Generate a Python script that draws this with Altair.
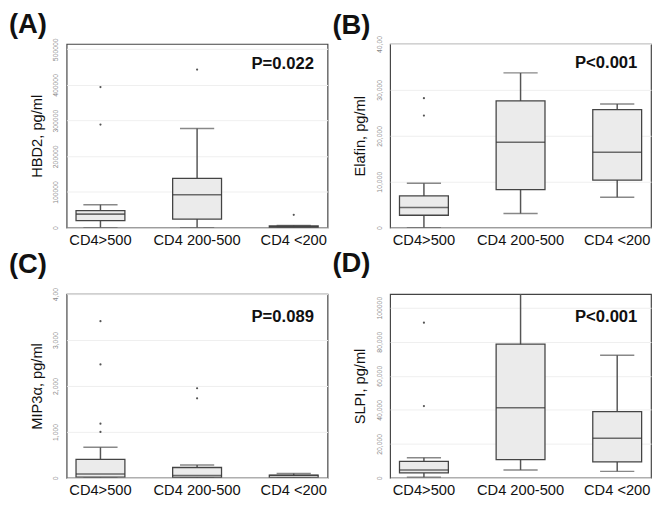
import altair as alt
import pandas as pd

categories = ["CD4>500", "CD4 200-500", "CD4 <200"]

# Panel A: HBD2
A_lo = [0, 0, 0]
A_q1 = [20000, 24000, 500]
A_med = [38000, 92000, 2500]
A_q3 = [48000, 138000, 5000]
A_hi = [64000, 278000, 6000]
A_out_cat = ["CD4>500", "CD4>500", "CD4 200-500", "CD4 <200"]
A_out_val = [289000, 394000, 443000, 36000]
A_ticks = [0, 100000, 200000, 300000, 400000, 500000]
A_tick_labels = ["0", "100000", "200000", "300000", "400000", "500000"]

# Panel B: Elafin
B_lo = [0, 3100, 6600]
B_q1 = [2700, 8300, 10350]
B_med = [4400, 18600, 16400]
B_q3 = [6900, 27600, 25700]
B_hi = [9650, 33700, 26900]
B_out_cat = ["CD4>500", "CD4>500"]
B_out_val = [24400, 28200]
B_ticks = [0, 10000, 20000, 30000, 40000]
B_tick_labels = ["0", "10,000", "20,000", "30,000", "40,00"]

# Panel C: MIP3a
C_lo = [0, 0, 0]
C_q1 = [15, 10, 5]
C_med = [85, 50, 50]
C_q3 = [400, 225, 58]
C_hi = [665, 280, 95]
C_out_cat = ["CD4>500", "CD4>500", "CD4>500", "CD4>500", "CD4 200-500", "CD4 200-500"]
C_out_val = [1000, 1180, 2470, 3410, 1730, 1950]
C_ticks = [0, 1000, 2000, 3000, 4000]
C_tick_labels = ["0", "1,000", "2,000", "3,000", "4,00"]

# Panel D: SLPI
D_lo = [400, 4600, 3800]
D_q1 = [2900, 10700, 9350]
D_med = [4600, 41200, 23300]
D_q3 = [9700, 78600, 38900]
D_hi = [11800, 112000, 72100]
D_out_cat = ["CD4>500", "CD4>500"]
D_out_val = [42200, 91200]
D_ticks = [0, 20000, 40000, 60000, 80000, 100000]
D_tick_labels = ["0", "20,000", "40,000", "60,000", "80,000", "100000"]

FONT = "Liberation Sans"
W, H = 267, 188


def panel(letter, ytitle, pval, lo, q1, med, q3, hi, out_cat, out_val,
          ymax, ticks, tick_labels, py, toff):
    stats = pd.DataFrame({"cat": categories, "lo": lo, "q1": q1, "med": med,
                          "q3": q3, "hi": hi})
    outs = pd.DataFrame({"cat": out_cat, "v": out_val})
    ptxt = pd.DataFrame({"p": [pval]})

    label_map = "{" + ",".join(f"'{t}':'{l}'" for t, l in zip(ticks, tick_labels)) + "}"

    xscale = alt.Scale(type="band", paddingInner=0.5, paddingOuter=0.1)
    xaxis = alt.Axis(labelAngle=0, labelFontSize=15, labelFont=FONT,
                     labelColor="#111", ticks=False, domain=False,
                     labelPadding=5, grid=False)
    xenc = alt.X("cat:N", sort=categories, title=None, scale=xscale, axis=xaxis)
    yscale = alt.Scale(domain=[0, ymax], nice=False, zero=True)
    yaxis = alt.Axis(values=ticks, labelExpr=f"{label_map}[datum.value]",
                     labelAngle=-90, labelFontSize=7, labelColor="#8a8a8a",
                     labelFont=FONT, labelOverlap=False, labelBound=False,
                     labelFlush=False,
                     ticks=False, domain=False, grid=True,
                     gridColor="#efefef", gridWidth=1, labelPadding=8,
                     titleFont=FONT, titleFontSize=15,
                     titleFontWeight="normal", titleColor="#111", titlePadding=8)

    def Y(field):
        return alt.Y(field, scale=yscale, axis=yaxis, title=ytitle)

    base = alt.Chart(stats).encode(x=xenc)
    whisk = base.mark_rule(color="#555", strokeWidth=1.5, clip=True).encode(
        y=Y("lo:Q"), y2="hi:Q")
    caps_hi = base.mark_tick(color="#555", size=35, thickness=1.5, clip=True).encode(
        y=Y("hi:Q"))
    caps_lo = base.mark_tick(color="#555", size=35, thickness=1.5, clip=True).encode(
        y=Y("lo:Q"))
    box = base.mark_bar(size=50, fill="#ebebeb", stroke="#444",
                        strokeWidth=1.3, clip=True).encode(
        y=Y("q1:Q"), y2="q3:Q")
    medl = base.mark_tick(color="#333", size=50, thickness=1.6, clip=True).encode(
        y=Y("med:Q"))
    pts = alt.Chart(outs).mark_circle(size=5, color="#555", opacity=1).encode(
        x=xenc, y=Y("v:Q"))
    ptext = alt.Chart(ptxt).mark_text(align="right", baseline="middle",
                                      fontSize=17, fontWeight="bold",
                                      font=FONT, color="#111").encode(
        text="p:N", x=alt.value(W - 14), y=alt.value(py))

    return alt.layer(whisk, caps_lo, caps_hi, box, medl, pts, ptext).properties(
        width=W, height=H,
        title=alt.TitleParams(letter, anchor="start", frame="group", dx=-59,
                              fontSize=28, fontWeight="bold", font=FONT,
                              color="#111", offset=toff))


pA = panel("(A)", "HBD2, pg/ml", "P=0.022", A_lo, A_q1, A_med, A_q3, A_hi,
           A_out_cat, A_out_val, 515000, A_ticks, A_tick_labels, 21, -1)
pB = panel("(B)", "Elafin, pg/ml", "P<0.001", B_lo, B_q1, B_med, B_q3, B_hi,
           B_out_cat, B_out_val, 40000, B_ticks, B_tick_labels, 20, -5)
pC = panel("(C)", "MIP3α, pg/ml", "P=0.089", C_lo, C_q1, C_med, C_q3, C_hi,
           C_out_cat, C_out_val, 4000, C_ticks, C_tick_labels, 24, 9)
pD = panel("(D)", "SLPI, pg/ml", "P<0.001", D_lo, D_q1, D_med, D_q3, D_hi,
           D_out_cat, D_out_val, 108000, D_ticks, D_tick_labels, 24, 17)

chart = alt.vconcat(
    alt.hconcat(pA, pB, spacing=3),
    alt.hconcat(pC, pD, spacing=3),
    spacing=1,
).properties(
    padding={"left": 0, "top": -3, "right": 0, "bottom": 0},
    background="white",
).configure_view(stroke="#444", strokeWidth=1.2).configure_axis(labelOverlap=False)

chart.save("out.html", embed_options={"renderer": "svg", "actions": False})
